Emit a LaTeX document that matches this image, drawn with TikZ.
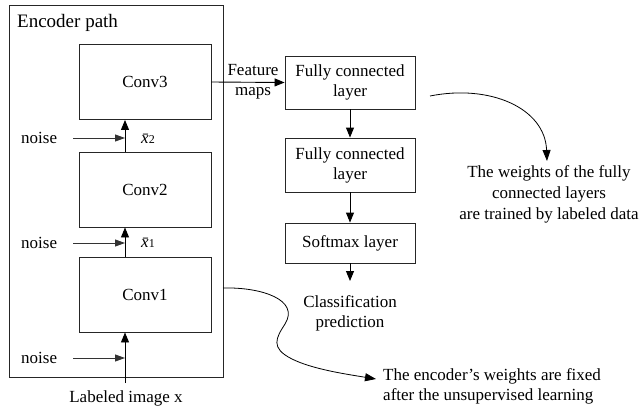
\documentclass[tikz,border=0pt]{standalone}
\usepackage{fontspec}
\setmainfont{Liberation Serif}
\usetikzlibrary{arrows.meta,calc}
\begin{document}
\begin{tikzpicture}[x=1pt,y=-1pt,
  every node/.style={font=\fontsize{17}{20}\selectfont, text=black},
  lay/.style={draw=black!85, line width=0.9pt, minimum width=130pt, align=center, inner sep=0pt},
  conv/.style={draw=black!85, line width=0.9pt, minimum width=132pt, minimum height=75pt, inner sep=0pt},
  txt/.style={inner sep=0pt, align=center},
  arr/.style={line width=0.9pt, draw=black, -{Triangle[length=10pt,width=8pt]}},
  narr/.style={line width=0.9pt, draw=black!80, -{Triangle[length=10pt,width=7pt]}},
  crv/.style={line width=0.8pt, draw=black, -{Triangle[length=11pt,width=8pt]}}]
\useasboundingbox (0,0) rectangle (644,409);
% encoder outer box
\node[draw=black!85, line width=0.9pt, minimum width=214pt, minimum height=372pt, inner sep=0pt] (enc) at (116,191) {};
\node[txt, anchor=west, font=\fontsize{19}{22}\selectfont] (title) at (17,23) {Encoder path};
% conv boxes
\node[conv] (conv3) at (145,82) {Conv3};
\node[conv] (conv2) at (145,189.5) {Conv2};
\node[conv] (conv1) at (145,294.5) {Conv1};
\coordinate (vx) at (125,0);
% vertical arrows
\coordinate (inp) at (125,383);
\draw[arr] (inp) -- (conv1.south -| vx);
\draw[arr] (conv1.north -| vx) -- (conv2.south -| vx);
\draw[arr] (conv2.north -| vx) -- (conv3.south -| vx);
% noise
\node[txt, anchor=west] (noise3) at (21,138) {noise};
\node[txt, anchor=west] (noise2) at (21,243) {noise};
\node[txt, anchor=west] (noise1) at (21,358) {noise};
\coordinate (n3) at (73,138);
\coordinate (n2) at (73,243);
\coordinate (n1) at (73,358);
\draw[narr] (n3) -- (n3 -| vx);
\draw[narr] (n2) -- (n2 -| vx);
\draw[narr] (n1) -- (n1 -| vx);
% x bar labels
\node[txt] (xb2) at (148,139) {\itshape\=x\upshape\fontsize{12}{12}\selectfont 2};
\node[txt] (xb1) at (148,243) {\itshape\=x\upshape\fontsize{12}{12}\selectfont 1};
\node[txt] (lab) at (126,398) {Labeled image x};
% right column
\node[lay, minimum height=53pt] (fc1) at (350,82.5) {Fully connected\\layer};
\node[lay, minimum height=54pt] (fc2) at (350,165) {Fully connected\\layer};
\node[lay, minimum height=40pt] (sm) at (350,243) {Softmax layer};
\coordinate (smout) at (350,281);
\node[txt] (cls) at (350,313.5) {Classification\\prediction};
\draw[arr] (conv3.east) -- (fc1.west);
\node[txt] (fm) at (253,82) {Feature\\maps};
\draw[arr] (fc1.south) -- (fc2.north);
\draw[arr] (fc2.south) -- (sm.north);
\draw[arr] (sm.south) -- (smout);
% annotations
\coordinate (a1) at (430,96);
\coordinate (a2) at (547,161);
\draw[crv] (a1) .. controls (490,84) and (545,108) .. (a2);
\node[txt, font=\fontsize{17}{21}\selectfont] (w1) at (549,194) {The weights of the fully\\connected layers\\are trained by labeled data};
\coordinate (b1) at (223,288);
\coordinate (b2) at (376,379);
\draw[crv] (b1) .. controls (262,287) and (300,300) .. (285,324)
   .. controls (276,338) and (270,348) .. (292,359)
   .. controls (312,369) and (345,374) .. (b2);
\node[txt, anchor=west, align=left] (w2) at (383,386) {The encoder’s weights are fixed\\after the unsupervised learning};
\end{tikzpicture}
\end{document}
